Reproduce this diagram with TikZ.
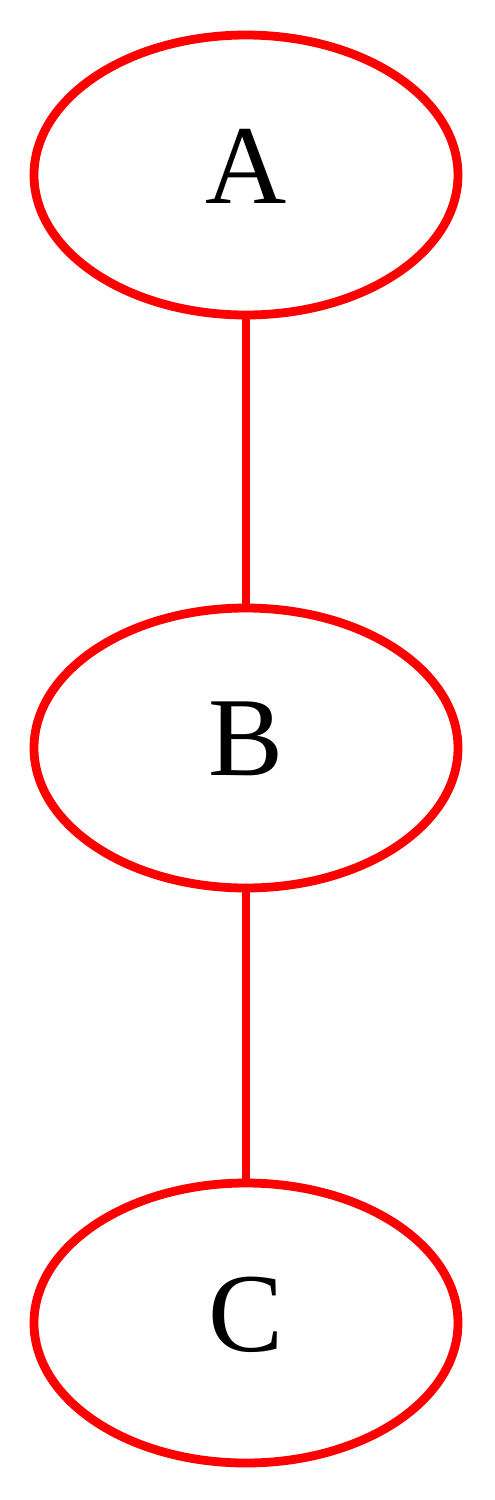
\documentclass[tikz,border=0pt]{standalone}
\usepackage{fontspec}
\setmainfont{Liberation Serif}
\usetikzlibrary{shapes.geometric}

\begin{document}
\begin{tikzpicture}[x=1cm, y=1cm,
    vert/.style={ellipse, draw=red, line width=2.5pt, minimum width=4.24cm, minimum height=2.80cm, inner sep=0pt, text depth=0.18cm, font=\fontsize{32}{38}\selectfont},
    edge/.style={draw=red, line width=2.5pt}]
    		% picture frame
    		\useasboundingbox (0,0) rectangle (4.95,-15);

    		% Nodes
    		\node[vert] (A) at (2.46,-1.75) {A};
    		\node[vert] (B) at (2.46,-7.48) {B};
    		\node[vert] (C) at (2.46,-13.23) {C};

    		% Edges
    		\draw[edge] (A) -- (B);
    		\draw[edge] (B) -- (C);
    	\end{tikzpicture}
\end{document}
